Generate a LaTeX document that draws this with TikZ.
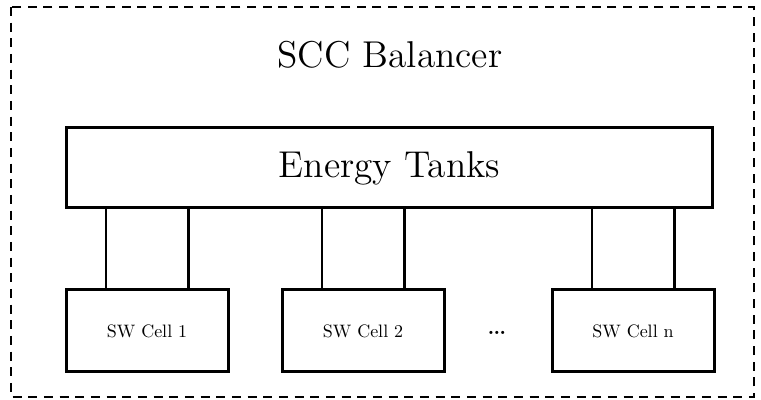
\documentclass[tikz,border=0pt]{standalone}
\usetikzlibrary{calc}
\begin{document}
\begin{tikzpicture}[x=0.3pt,y=-0.3pt,
  boxline/.style={draw=black,line width=0.9pt},
  tankbox/.style={boxline,minimum width=194pt,minimum height=24pt,inner sep=0pt,font=\fontsize{11.2}{13}\selectfont},
  cellbox/.style={boxline,minimum width=48.6pt,minimum height=24.6pt,inner sep=0pt},
  wire/.style={draw=black,line width=0.75pt},
  frame/.style={draw=black,line width=0.6pt,dash pattern=on 2.7pt off 2pt}]
\useasboundingbox (0,0) rectangle (761,400);
\draw[frame] (11,7) rectangle (754,397);
\node[font=\fontsize{11.2}{13}\selectfont] (title) at (390,55) {SCC Balancer};
\node[tankbox] (tank) at (389.5,168) {Energy Tanks};
\node[cellbox] (c1) at (147,331) {\scalebox{0.54}{SW Cell 1}};
\node[cellbox] (c2) at (363,331) {\scalebox{0.54}{SW Cell 2}};
\node[cellbox] (cn) at (633,331) {\scalebox{0.54}{SW Cell n}};
\node (dots) at (497,333) {\scalebox{0.9}{\dots}};
\foreach \c in {c1,c2,cn}{
  \coordinate (\c a) at ($(\c.north west)!0.25!(\c.north east)$);
  \coordinate (\c b) at ($(\c.north west)!0.75!(\c.north east)$);
  \draw[wire] (\c a) -- (\c a |- tank.south);
  \draw[wire] (\c b) -- (\c b |- tank.south);
}
\end{tikzpicture}
\end{document}
